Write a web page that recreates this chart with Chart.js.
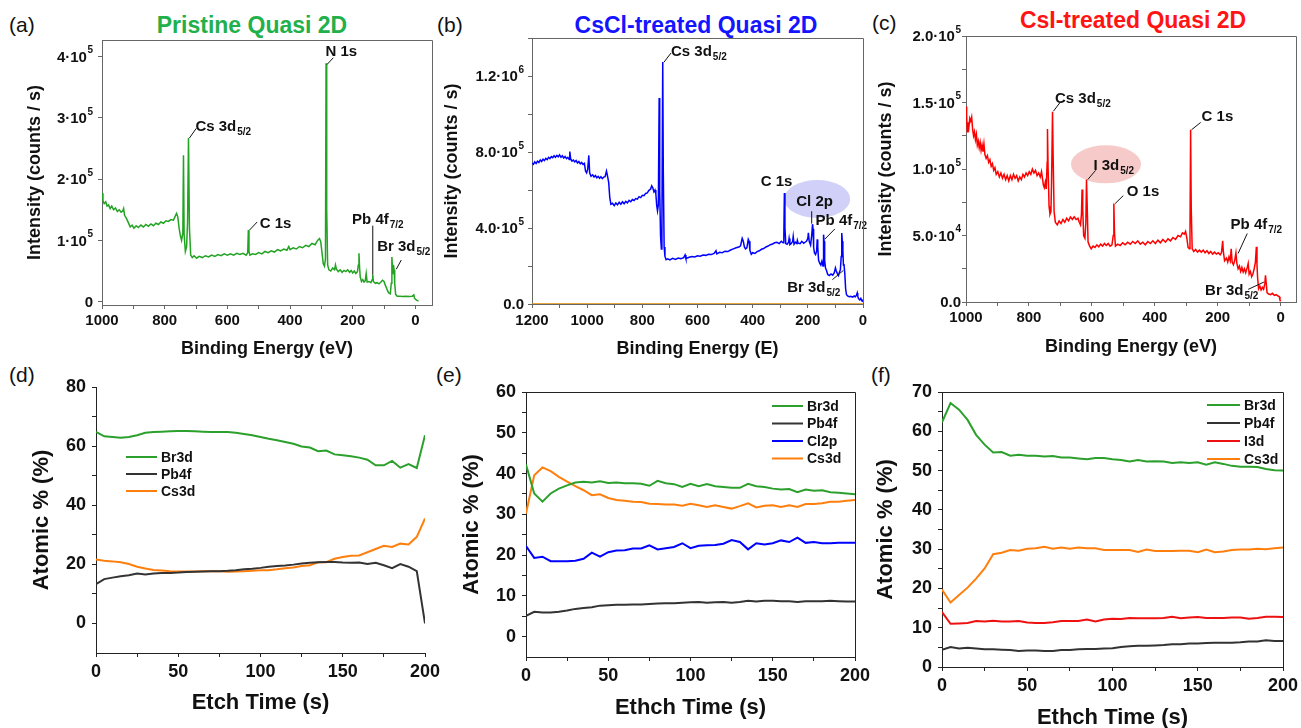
<!DOCTYPE html>
<html>
<head>
<meta charset="utf-8">
<script src="https://cdn.jsdelivr.net/npm/chart.js@4.4.1/dist/chart.umd.min.js"></script>
<style>
  html, body { margin: 0; padding: 0; background: #fff; width: 1301px; height: 728px; overflow: hidden; }
  body { position: relative; font-family: "Liberation Sans", Arial, sans-serif; }
  canvas { position: absolute; }
  .panel { position: absolute; font-size: 21px; color: #111; transform: translateY(-50%); }
  .title { position: absolute; font-size: 23px; font-weight: bold; white-space: nowrap; transform: translate(-50%, -50%); }
</style>
</head>
<body>
<div class="panel" style="left:9px;top:25px">(a)</div>
<div class="panel" style="left:437px;top:25px">(b)</div>
<div class="panel" style="left:872px;top:23px">(c)</div>
<div class="panel" style="left:9px;top:375px">(d)</div>
<div class="panel" style="left:436px;top:375px">(e)</div>
<div class="panel" style="left:871px;top:375px">(f)</div>
<div class="title" style="left:252px;top:25px;color:#22b04b">Pristine Quasi 2D</div>
<div class="title" style="left:696px;top:25px;color:#1414ff">CsCl-treated Quasi 2D</div>
<div class="title" style="left:1133px;top:20px;color:#ff1414">CsI-treated Quasi 2D</div>

<canvas id="chartA" width="450" height="370" style="left:0;top:0"></canvas>
<canvas id="chartB" width="438" height="370" style="left:432px;top:0"></canvas>
<canvas id="chartC" width="435" height="370" style="left:866px;top:0"></canvas>
<canvas id="chartD" width="440" height="368" style="left:0;top:360px"></canvas>
<canvas id="chartE" width="430" height="368" style="left:440px;top:360px"></canvas>
<canvas id="chartF" width="431" height="378" style="left:870px;top:360px"></canvas>

<script>
// ---- XPS survey spectra: [binding energy (eV), intensity (counts/s)] ----
const spectrumA = [
  [1000,177000],[997,165000],[993,160000],[988,163000],[984,156000],[979,158000],[974,152000],[969,156000],[963,150000],[957,153000],
  [951,147000],[945,150000],[939,146000],[934,148000],[931,152000],[928,141000],[922,136000],[916,129000],[910,122000],[904,125000],
  [898,120000],[891,124000],[884,121000],[876,125000],[868,122000],[860,126000],[852,123000],[844,127000],[836,124000],[828,128000],
  [820,126000],[812,130000],[804,128000],[796,132000],[788,131000],[780,134000],[772,133000],[766,140000],[762,144000],[758,138000],
  [754,120000],[750,108000],[746,100000],[742,112000],[740,239000],[738,110000],[734,82000],[730,90000],[727,130000],[724,267000],
  [721,120000],[717,76000],[712,72000],[706,75000],[698,71000],[690,74000],[680,72000],[670,75000],[660,73000],[650,76000],
  [640,74000],[630,77000],[620,75000],[610,78000],[600,76000],[590,78000],[580,76000],[570,79000],[560,77000],[550,79000],
  [540,76000],[535,80000],[533,117000],[531,82000],[528,76000],[520,78000],[510,77000],[500,80000],[490,78000],[480,82000],
  [470,80000],[460,83000],[450,81000],[440,85000],[430,83000],[420,86000],[410,84000],[404,90000],[400,85000],[390,88000],
  [380,86000],[370,90000],[360,88000],[350,92000],[340,90000],[330,95000],[320,93000],[312,100000],[306,103000],[302,98000],
  [298,80000],[294,62000],[290,58000],[287,70000],[285,389000],[283,150000],[280,60000],[276,52000],[270,50000],[264,55000],
  [258,52000],[255,60000],[252,53000],[246,49000],[240,52000],[234,48000],[228,51000],[222,49000],[216,52000],[210,48000],
  [205,51000],[200,47000],[195,50000],[190,46000],[185,49000],[182,60000],[180,79000],[178,55000],[176,40000],[172,33000],
  [168,36000],[164,32000],[160,34000],[157,46000],[154,32000],[148,33000],[142,31000],[138,36000],[136,44000],[134,33000],
  [128,30000],[122,31000],[116,29000],[110,32000],[105,35000],[100,33000],[96,27000],[92,22000],[88,17000],[84,14000],
  [80,13000],[77,30000],[75,73000],[72,45000],[70,60000],[68,52000],[66,30000],[63,12000],[58,9000],[50,9000],
  [40,8500],[30,9000],[20,8500],[10,9000],[5,11000],[3,6000],[0,4000],[-5,2000],[-10,1000]
];

const spectrumB = [
  [1200,742000],[1195,735000],[1190,748000],[1185,740000],[1180,752000],[1175,745000],[1170,758000],[1165,750000],[1160,762000],[1155,755000],
  [1150,766000],[1145,760000],[1140,772000],[1135,765000],[1130,776000],[1125,770000],[1120,780000],[1115,772000],[1110,782000],[1105,775000],
  [1100,785000],[1095,772000],[1090,780000],[1085,768000],[1080,776000],[1075,765000],[1070,772000],[1065,760000],[1063,802000],[1060,765000],
  [1055,752000],[1050,758000],[1045,748000],[1040,755000],[1035,742000],[1030,750000],[1025,738000],[1020,745000],[1015,735000],[1010,740000],
  [1006,700000],[1002,690000],[998,710000],[994,782000],[991,690000],[986,672000],[980,680000],[975,668000],[970,676000],[965,664000],
  [960,672000],[955,662000],[950,670000],[945,660000],[940,668000],[935,670000],[930,700000],[927,680000],[922,640000],[918,560000],
  [914,525000],[908,530000],[902,518000],[896,532000],[890,522000],[884,535000],[878,525000],[872,538000],[866,528000],[860,540000],
  [854,532000],[848,545000],[842,538000],[836,550000],[830,545000],[824,555000],[818,552000],[812,565000],[806,560000],[800,572000],
  [794,570000],[788,582000],[782,585000],[776,598000],[770,605000],[766,622000],[762,612000],[758,590000],[754,600000],[751,580000],
  [748,520000],[745,490000],[742,520000],[739,1084000],[737,600000],[734,360000],[731,290000],[729,420000],[726,1274000],[724,700000],
  [721,300000],[718,250000],[714,233000],[708,238000],[700,232000],[690,240000],[680,235000],[670,242000],[660,238000],[650,244000],
  [645,258000],[642,240000],[630,246000],[620,250000],[610,248000],[600,254000],[590,252000],[580,258000],[570,256000],[560,262000],
  [550,260000],[540,266000],[533,280000],[530,264000],[520,272000],[510,270000],[500,278000],[490,276000],[480,284000],[470,290000],
  [460,296000],[450,300000],[444,306000],[438,345000],[434,330000],[430,300000],[426,290000],[421,296000],[416,340000],[413,330000],
  [410,282000],[405,262000],[400,270000],[392,266000],[384,276000],[376,280000],[368,288000],[360,292000],[352,300000],[344,305000],
  [336,312000],[328,316000],[320,322000],[312,325000],[304,318000],[296,330000],[290,322000],[287,360000],[285,584000],[283,400000],
  [280,318000],[275,314000],[270,325000],[268,345000],[265,312000],[260,318000],[255,330000],[253,355000],[250,315000],[245,325000],
  [240,318000],[238,335000],[235,320000],[228,318000],[222,330000],[215,320000],[210,325000],[205,330000],[200,345000],[198,375000],
  [195,330000],[190,310000],[186,360000],[183,420000],[181,395000],[179,300000],[176,268000],[172,260000],[168,280000],[166,340000],
  [164,300000],[161,230000],[157,215000],[153,205000],[149,225000],[145,200000],[143,365000],[141,330000],[139,230000],[136,190000],
  [132,175000],[128,155000],[122,150000],[116,158000],[110,152000],[104,165000],[100,190000],[97,175000],[93,160000],[89,150000],
  [86,165000],[82,180000],[79,250000],[77,374000],[75,330000],[73,280000],[71,205000],[69,210000],[66,160000],[63,80000],
  [60,50000],[56,42000],[50,38000],[44,40000],[38,36000],[32,42000],[28,38000],[24,45000],[21,58000],[19,40000],
  [16,28000],[12,22000],[8,30000],[5,18000],[2,20000],[0,10000]
];
const baselineB = [[1200,0],[0,0]];

const spectrumC = [
  [1000,147000],[998,140000],[996,128000],[994,135000],[991,131000],[988,138000],[985,136000],[982,139000],[979,130000],[976,125000],
  [973,128000],[970,122000],[967,126000],[964,118000],[961,121000],[958,116000],[955,120000],[952,114000],[949,118000],[946,113000],
  [943,119000],[940,111000],[936,108000],[932,110000],[928,105000],[924,107000],[920,102000],[916,104000],[912,99000],[908,101000],
  [904,96000],[899,98000],[894,94000],[889,97000],[884,93000],[879,96000],[874,92000],[869,95000],[864,91000],[859,95000],
  [854,92000],[849,96000],[844,93000],[839,95000],[834,91000],[829,94000],[824,92000],[819,96000],[814,94000],[809,97000],
  [804,95000],[799,98000],[794,96000],[789,100000],[784,97000],[779,99000],[774,95000],[769,97000],[764,94000],[760,98000],
  [757,93000],[754,88000],[751,86000],[748,90000],[745,85000],[742,105000],[741,130000],[739,100000],[736,72000],[733,66000],
  [730,68000],[728,90000],[725,143000],[723,110000],[720,68000],[716,60000],[710,58000],[704,61000],[698,59000],[692,62000],
  [686,60000],[680,63000],[674,61000],[668,64000],[662,62000],[656,64000],[650,62000],[644,63000],[640,60000],[636,58000],
  [633,66000],[631,84500],[629,70000],[626,50000],[622,48000],[619,60000],[617,92000],[615,75000],[612,45000],[607,42000],
  [602,40000],[596,42000],[590,41000],[584,43000],[578,41500],[572,43500],[566,42000],[560,44000],[554,42500],[548,44000],
  [542,42000],[536,43000],[532,50000],[530,74000],[528,52000],[525,42000],[518,43500],[510,42500],[502,44500],[494,43000],
  [486,45000],[478,43500],[470,45500],[462,44000],[454,46000],[446,43500],[438,45000],[430,43000],[422,45500],[414,44000],
  [406,46000],[398,44000],[390,46500],[382,44500],[374,47000],[366,45000],[358,47500],[350,46000],[342,48500],[334,47000],
  [326,50000],[318,49000],[312,52000],[306,51000],[302,53000],[298,48000],[294,41000],[290,40000],[288,50000],[286,129500],
  [284,70000],[281,40000],[276,38000],[270,39500],[264,37500],[258,39000],[252,37500],[246,39000],[240,37000],[234,38500],
  [228,36500],[222,38000],[216,36000],[210,37500],[204,36000],[198,37000],[192,35500],[188,37000],[184,46000],[182,38000],
  [178,31000],[172,33000],[168,30000],[164,34000],[160,31000],[157,40000],[154,30000],[150,28000],[146,31000],[142,37000],
  [139,29000],[135,25000],[131,27000],[127,23000],[123,26000],[119,22500],[115,25000],[111,22000],[106,26000],[103,29000],
  [100,21000],[96,23000],[92,19000],[88,21000],[84,25000],[80,30000],[77,41500],[75,28000],[73,18000],[70,10000],
  [66,12000],[62,9000],[58,11000],[54,9500],[50,14000],[48,20000],[46,15000],[43,7000],[38,6000],[32,5500],
  [26,6500],[20,5000],[14,5500],[8,4500],[4,4000],[2,1500],[0,500]
];

// ---- depth profiles: atomic % vs etch time ----
const etchTime = [0,5,10,15,20,25,30,35,40,45,50,55,60,65,70,75,80,85,90,95,100,
  105,110,115,120,125,130,135,140,145,150,155,160,165,170,175,180,185,190,195,200];

const br3dD = [64.8,63.3,63.1,62.8,63.1,63.7,64.5,64.8,64.9,65.0, 65.1,65.1,65.0,64.9,64.8,64.8,64.8,64.5,64.1,63.7,
  63.1,62.5,62.0,61.4,60.8,59.9,59.5,58.3,58.5,57.2, 56.9,56.6,56.1,55.4,53.5,53.5,55.0,52.7,53.9,52.6, 63.7];
const pb4fD = [13.3,15.0,15.5,16.0,16.3,16.9,16.6,16.9,17.1,17.1, 17.2,17.4,17.5,17.6,17.7,17.7,17.8,18.0,18.3,18.5,
  18.8,19.2,19.4,19.6,19.9,20.3,20.5,20.7,20.8,20.8, 20.6,20.5,20.6,20.1,20.5,19.7,18.7,20.1,19.2,17.7, 0];
const cs3dD = [21.6,21.2,21.0,20.7,20.1,19.2,18.6,18.1,17.9,17.7, 17.6,17.6,17.6,17.7,17.7,17.7,17.5,17.6,17.7,17.8,
  18.0,18.0,18.3,18.7,18.9,19.4,19.7,20.7,20.7,21.9, 22.5,22.9,23.0,24.1,25.2,26.3,25.9,27.0,26.7,29.3, 35.5];

const br3dE = [42.2,35.1,33.1,35.1,36.3,37.1,37.8,38.0,37.8,38.1, 37.7,37.8,37.6,37.6,37.5,37.0,38.2,37.6,37.4,36.7,
  37.5,36.9,37.4,36.9,36.7,36.5,36.5,37.5,36.9,36.7, 36.3,36.1,36.2,35.4,36.1,35.8,35.9,35.4,35.3,35.1, 34.9];
const pb4fE = [5.1,6.1,5.9,5.9,6.1,6.4,6.8,7.0,7.2,7.6, 7.7,7.8,7.8,7.9,7.9,8.0,8.1,8.2,8.2,8.3,
  8.4,8.5,8.3,8.4,8.5,8.3,8.5,8.8,8.6,8.8, 8.8,8.7,8.7,8.5,8.7,8.7,8.7,8.8,8.7,8.6, 8.6];
const cl2pE = [22.2,19.3,19.6,18.5,18.5,18.5,18.6,19.1,20.6,19.6, 20.7,21.1,21.2,21.6,21.6,22.4,21.4,21.7,22.0,22.9,
  21.7,22.3,22.4,22.5,22.8,23.7,23.2,21.4,22.9,22.6, 22.9,23.6,23.2,24.3,23.0,23.2,22.9,22.9,23.0,23.0, 23.0];
const cs3dE = [30.2,39.6,41.5,40.6,39.2,38.0,36.9,35.9,34.7,34.9, 34.0,33.5,33.3,33.1,33.0,32.6,32.5,32.4,32.4,32.1,
  32.6,32.2,31.8,32.2,31.8,31.4,32.0,32.7,31.7,32.1, 32.2,31.8,32.2,31.8,32.5,32.5,32.7,33.1,33.1,33.3, 33.5];

const br3dF = [62.3,67.2,65.5,62.9,59.1,56.6,54.6,54.7,53.8,54.0, 53.8,53.8,53.6,53.7,53.3,53.3,53.1,52.9,53.2,53.2,
  52.9,52.7,52.3,52.7,52.3,52.4,52.3,51.9,52.1,51.9, 52.1,51.5,52.1,51.7,51.2,51.0,51.0,50.9,50.4,50.1, 50.0];
const pb4fF = [4.4,5.1,4.7,4.9,4.7,4.5,4.5,4.4,4.3,4.1, 4.2,4.2,4.1,4.1,4.3,4.3,4.5,4.6,4.6,4.7,
  4.8,5.1,5.3,5.4,5.4,5.5,5.6,5.8,5.8,6.0, 6.0,6.1,6.2,6.2,6.2,6.3,6.5,6.5,6.8,6.6, 6.6];
const i3dF = [14.0,11.0,11.1,11.2,11.7,11.6,11.8,11.6,11.6,11.7, 11.3,11.2,11.2,11.4,11.7,11.7,11.7,12.1,11.6,12.1,
  12.3,12.2,12.5,12.4,12.4,12.4,12.5,12.8,12.4,12.6, 12.7,12.5,12.5,12.5,12.6,12.6,12.3,12.5,12.8,12.8, 12.7];
const cs3dF = [19.7,16.4,18.3,20.2,22.5,25.1,28.7,29.1,29.8,29.6, 30.1,30.2,30.6,30.1,30.4,30.1,30.4,30.2,30.2,29.8,
  29.8,29.8,29.8,29.3,29.9,29.5,29.5,29.5,29.6,29.6, 29.2,29.9,29.2,29.4,29.8,29.9,29.9,30.1,30.0,30.2, 30.4];

// ---- tick values and labels ("^" marks the exponent) ----
const energyTicks = [0, 200, 400, 600, 800, 1000];
const energyTicksB = [0, 200, 400, 600, 800, 1000, 1200];
const yTicksA = [0, 100000, 200000, 300000, 400000];
const yLabelsA = ['0', '1·10^5', '2·10^5', '3·10^5', '4·10^5'];
const yTicksB = [0, 400000, 800000, 1200000];
const yLabelsB = ['0.0', '4.0·10^5', '8.0·10^5', '1.2·10^6'];
const yTicksC = [0, 50000, 100000, 150000, 200000];
const yLabelsC = ['0.0', '5.0·10^4', '1.0·10^5', '1.5·10^5', '2.0·10^5'];
const timeTicks = [0, 50, 100, 150, 200];
const yTicksD = [0, 20, 40, 60, 80];
const yTicksE = [0, 10, 20, 30, 40, 50, 60];
const yTicksF = [0, 10, 20, 30, 40, 50, 60, 70];

// ---- peak labels (position in data units) ----
const notesA = [
  { text: 'N 1s', at: [287, 401000], from: [262, 398000], to: [282, 387000] },
  { text: 'Cs 3d', sub: '5/2', at: [702, 279000], from: [699, 283000], to: [721, 267000] },
  { text: 'C 1s', at: [497, 121000], from: [505, 130000], to: [529, 117000] },
  { text: 'Pb 4f', sub: '7/2', at: [202, 127000], from: [136, 124000], to: [136, 44000] },
  { text: 'Br 3d', sub: '5/2', at: [122, 83000], from: [45, 68000], to: [61, 53000] }
];
const notesB = [
  { text: 'Cs 3d', sub: '5/2', at: [696, 1307000], from: [696, 1321000], to: [722, 1272000] },
  { text: 'C 1s', at: [371, 619000] },
  { text: 'Cl 2p', at: [242, 514000], from: [186, 488000], to: [186, 423000] },
  { text: 'Pb 4f', sub: '7/2', at: [172, 418000], from: [102, 395000], to: [138, 342000] },
  { text: 'Br 3d', sub: '5/2', at: [275, 63000], from: [111, 128000], to: [71, 177000] }
];
const notesC = [
  { text: 'Cs 3d', sub: '5/2', at: [717, 150000], from: [701, 150000], to: [722, 143500] },
  { text: 'I 3d', sub: '5/2', at: [595, 99000], from: [588, 99000], to: [613, 92000] },
  { text: 'O 1s', at: [489, 80000], from: [500, 80000], to: [526, 74000] },
  { text: 'C 1s', at: [251, 136000], from: [254, 135000], to: [283, 129500] },
  { text: 'Pb 4f', sub: '7/2', at: [159, 55000], from: [106, 51500], to: [135, 36500] },
  { text: 'Br 3d', sub: '5/2', at: [240, 5000], from: [103, 9500], to: [53, 15000] }
];

const FONT = '"Liberation Sans", Arial, sans-serif';
Chart.defaults.font.family = FONT;
Chart.defaults.color = '#111';

// box lines on top / right of the plot area
const framePlugin = {
  id: 'frame',
  afterDraw(chart, args, opts) {
    if (!opts.on) return;
    const { ctx, chartArea: a } = chart;
    ctx.save();
    ctx.strokeStyle = opts.color;
    ctx.lineWidth = 1;
    ctx.beginPath();
    ctx.moveTo(a.left, a.top + 0.5);
    ctx.lineTo(a.right + 0.5, a.top + 0.5);
    ctx.lineTo(a.right + 0.5, a.bottom);
    ctx.stroke();
    ctx.restore();
  }
};

// y tick labels written as mantissa·10 with a raised exponent
const expPlugin = {
  id: 'exp',
  afterDraw(chart, args, opts) {
    if (!opts.labels) return;
    const { ctx, chartArea: a, scales } = chart;
    ctx.save();
    ctx.fillStyle = '#111';
    ctx.textBaseline = 'middle';
    opts.values.forEach((v, i) => {
      const parts = opts.labels[i].split('^');
      const y = scales.y.getPixelForValue(v);
      let x = a.left - opts.gap;
      ctx.font = 'bold 10px ' + FONT;
      const ew = parts[1] ? ctx.measureText(parts[1]).width : 0;
      if (parts[1]) {
        ctx.textAlign = 'right';
        ctx.fillText(parts[1], x, y - 6);
        x -= ew + 0.5;
      }
      ctx.font = 'bold 15px ' + FONT;
      ctx.textAlign = 'right';
      ctx.fillText(parts[0], x, y + 1);
    });
    ctx.restore();
  }
};

// peak labels, leader lines and highlight ellipses
const notesPlugin = {
  id: 'notes',
  beforeDatasetsDraw(chart, args, opts) {
    if (!opts.ellipse) return;
    const { ctx, scales } = chart;
    const e = opts.ellipse;
    ctx.save();
    ctx.fillStyle = e.color;
    ctx.beginPath();
    ctx.ellipse(scales.x.getPixelForValue(e.at[0]), scales.y.getPixelForValue(e.at[1]), e.rx, e.ry, 0, 0, Math.PI * 2);
    ctx.fill();
    ctx.restore();
  },
  afterDatasetsDraw(chart, args, opts) {
    if (!opts.items) return;
    const { ctx, scales } = chart;
    const px = v => scales.x.getPixelForValue(v);
    const py = v => scales.y.getPixelForValue(v);
    ctx.save();
    opts.items.forEach(n => {
      if (n.from) {
        ctx.strokeStyle = '#111';
        ctx.lineWidth = 1;
        ctx.beginPath();
        ctx.moveTo(px(n.from[0]), py(n.from[1]));
        ctx.lineTo(px(n.to[0]), py(n.to[1]));
        ctx.stroke();
      }
      const x = px(n.at[0]), y = py(n.at[1]);
      ctx.fillStyle = '#111';
      ctx.textBaseline = 'alphabetic';
      ctx.font = 'bold 15px ' + FONT;
      ctx.fillText(n.text, x, y);
      if (n.sub) {
        const w = ctx.measureText(n.text).width;
        ctx.font = 'bold 10px ' + FONT;
        ctx.fillText(n.sub, x + w + 1, y + 4);
      }
    });
    ctx.restore();
  }
};

// legend drawn inside the plot area
const keyPlugin = {
  id: 'key',
  afterDatasetsDraw(chart, args, opts) {
    if (opts.x === undefined) return;
    const { ctx, chartArea: a } = chart;
    ctx.save();
    chart.data.datasets.forEach((ds, i) => {
      const y = a.top + opts.y + i * opts.gap;
      const x = a.left + opts.x;
      ctx.strokeStyle = ds.borderColor;
      ctx.lineWidth = 2;
      ctx.beginPath();
      ctx.moveTo(x, y);
      ctx.lineTo(x + opts.len, y);
      ctx.stroke();
      ctx.fillStyle = '#111';
      ctx.font = 'bold 14px ' + FONT;
      ctx.textBaseline = 'middle';
      ctx.fillText(ds.label, x + opts.len + 4, y + 1);
    });
    ctx.restore();
  }
};

function axis(o) {
  const all = o.major.concat(o.minor || []).sort((p, q) => p - q);
  return {
    type: 'linear',
    min: o.min,
    max: o.max,
    reverse: !!o.reverse,
    afterBuildTicks: s => { s.ticks = all.map(v => ({ value: v })); },
    afterFit: s => {
      if (o.width !== undefined) { s.width = o.width; s.paddingTop = 0; s.paddingBottom = 0; }
      if (o.height !== undefined) { s.height = o.height; s.paddingLeft = 0; s.paddingRight = 0; }
    },
    ticks: {
      autoSkip: false,
      maxRotation: 0,
      padding: o.pad,
      color: '#111',
      font: { size: o.size, weight: 'bold' },
      // labels with exponents are drawn by expPlugin
      callback: v => (o.custom || o.major.indexOf(v) < 0) ? '' : String(v)
    },
    grid: { drawOnChartArea: false, drawTicks: true, tickLength: 4, tickColor: o.color },
    border: { color: o.color, width: 1 },
    title: {
      display: true,
      text: o.title,
      color: '#111',
      font: { size: o.titleSize, weight: 'bold', lineHeight: 1.2 },
      padding: o.titlePad
    }
  };
}

function line(label, color, pts, width) {
  return { label, data: pts.map(p => ({ x: p[0], y: p[1] })), borderColor: color,
    borderWidth: width, pointRadius: 0, fill: false, tension: 0 };
}

function profile(label, color, values) {
  return line(label, color, etchTime.map((t, i) => [t, values[i]]), 2);
}

function draw(id, datasets, pad, x, y, extra) {
  new Chart(document.getElementById(id), {
    type: 'line',
    data: { datasets },
    options: {
      responsive: false,
      animation: false,
      events: [],
      layout: { padding: pad },
      plugins: Object.assign({ legend: { display: false }, tooltip: { enabled: false } }, extra),
      scales: { x: axis(x), y: axis(y) }
    },
    plugins: [framePlugin, notesPlugin, keyPlugin, expPlugin]
  });
}

document.addEventListener('DOMContentLoaded', () => {
  const grey = '#666';
  const dark = '#222';

  // (a) pristine survey
  draw('chartA', [line('Pristine', '#22a322', spectrumA, 1.5)],
    { top: 40, right: 18, left: 0, bottom: 0 },
    { min: -53, max: 1000, reverse: true, major: energyTicks, minor: [100, 300, 500, 700, 900],
      size: 15, pad: 3, height: 65, color: grey, title: 'Binding Energy (eV)', titleSize: 18, titlePad: { bottom: 10 } },
    { min: -5400, max: 427000, major: yTicksA, custom: true,
      size: 15, pad: 6, width: 102, color: grey, title: 'Intensity (counts / s)', titleSize: 18, titlePad: { top: 24 } },
    { frame: { on: true, color: grey }, notes: { items: notesA },
      exp: { values: yTicksA, labels: yLabelsA, gap: 9 } });

  // (b) CsCl-treated survey
  draw('chartB', [line('CsCl', '#0000ff', spectrumB, 1.5), line('base', '#e08a00', baselineB, 1.5)],
    { top: 38, right: 7, left: 0, bottom: 0 },
    { min: 0, max: 1200, reverse: true, major: energyTicksB, minor: [100, 300, 500, 700, 900, 1100],
      size: 15, pad: 4, height: 66, color: grey, title: 'Binding Energy (E)', titleSize: 18, titlePad: { bottom: 10 } },
    { min: 0, max: 1400000, major: yTicksB, custom: true, minor: [200000, 600000, 1000000, 1400000],
      size: 15, pad: 4, width: 100, color: grey, title: 'Intensity (counts / s)', titleSize: 18, titlePad: { top: 9 } },
    { frame: { on: true, color: grey },
      notes: { items: notesB, ellipse: { at: [166, 553000], rx: 33, ry: 19, color: 'rgba(150,150,240,0.45)' } },
      exp: { values: yTicksB, labels: yLabelsB, gap: 8 } });

  // (c) CsI-treated survey
  draw('chartC', [line('CsI', '#ff0000', spectrumC, 1.5)],
    { top: 36, right: 5, left: 0, bottom: 0 },
    { min: -49, max: 1000, reverse: true, major: energyTicks, minor: [100, 300, 500, 700, 900],
      size: 15, pad: 3, height: 68, color: grey, title: 'Binding Energy (eV)', titleSize: 18, titlePad: { bottom: 12 } },
    { min: 0, max: 200000, major: yTicksC, custom: true, minor: [25000, 75000, 125000, 175000],
      size: 15, pad: 0, width: 100, color: grey, title: 'Intensity (counts / s)', titleSize: 18, titlePad: { top: 9 } },
    { frame: { on: true, color: grey },
      notes: { items: notesC, ellipse: { at: [555, 103500], rx: 35, ry: 19, color: 'rgba(240,150,150,0.5)' } },
      exp: { values: yTicksC, labels: yLabelsC, gap: 5 } });

  // (d) pristine depth profile
  draw('chartD', [profile('Br3d', '#2ca02c', br3dD), profile('Pb4f', '#333333', pb4fD), profile('Cs3d', '#ff7f0e', cs3dD)],
    { top: 27, right: 15, left: 0, bottom: 0 },
    { min: 0, max: 200, major: timeTicks, minor: [25, 75, 125, 175],
      size: 18, pad: 4, height: 75, color: dark, title: 'Etch Time (s)', titleSize: 22, titlePad: { bottom: 12 } },
    { min: -10, max: 80, major: yTicksD, minor: [10, 30, 50, 70],
      size: 18, pad: 6, width: 96, color: dark, title: 'Atomic % (%)', titleSize: 22, titlePad: { top: 29 } },
    { frame: { on: false }, key: { x: 30, y: 70, gap: 17, len: 31 } });

  // (e) CsCl depth profile
  draw('chartE', [profile('Br3d', '#2ca02c', br3dE), profile('Pb4f', '#333333', pb4fE),
      profile('Cl2p', '#0000ff', cl2pE), profile('Cs3d', '#ff7f0e', cs3dE)],
    { top: 32, right: 15, left: 0, bottom: 0 },
    { min: 0, max: 200, major: timeTicks, minor: [25, 75, 125, 175],
      size: 18, pad: 4, height: 71, color: dark, title: 'Ethch Time (s)', titleSize: 22, titlePad: { bottom: 7 } },
    { min: -5, max: 60, major: yTicksE, minor: [5, 15, 25, 35, 45, 55],
      size: 18, pad: 6, width: 86, color: dark, title: 'Atomic % (%)', titleSize: 22, titlePad: { top: 19 } },
    { frame: { on: true, color: dark }, key: { x: 246, y: 14, gap: 17.5, len: 31 } });

  // (f) CsI depth profile
  draw('chartF', [profile('Br3d', '#2ca02c', br3dF), profile('Pb4f', '#333333', pb4fF),
      profile('I3d', '#ee1111', i3dF), profile('Cs3d', '#ff7f0e', cs3dF)],
    { top: 32, right: 18, left: 0, bottom: 0 },
    { min: 0, max: 200, major: timeTicks, minor: [25, 75, 125, 175],
      size: 18, pad: 4, height: 71, color: dark, title: 'Ethch Time (s)', titleSize: 22, titlePad: { bottom: 7 } },
    { min: 0, max: 70, major: yTicksF, minor: [5, 15, 25, 35, 45, 55, 65],
      size: 18, pad: 6, width: 72, color: dark, title: 'Atomic % (%)', titleSize: 22, titlePad: { top: 3 } },
    { frame: { on: true, color: dark }, key: { x: 265, y: 13, gap: 18, len: 33 } });
});
</script>
</body>
</html>
